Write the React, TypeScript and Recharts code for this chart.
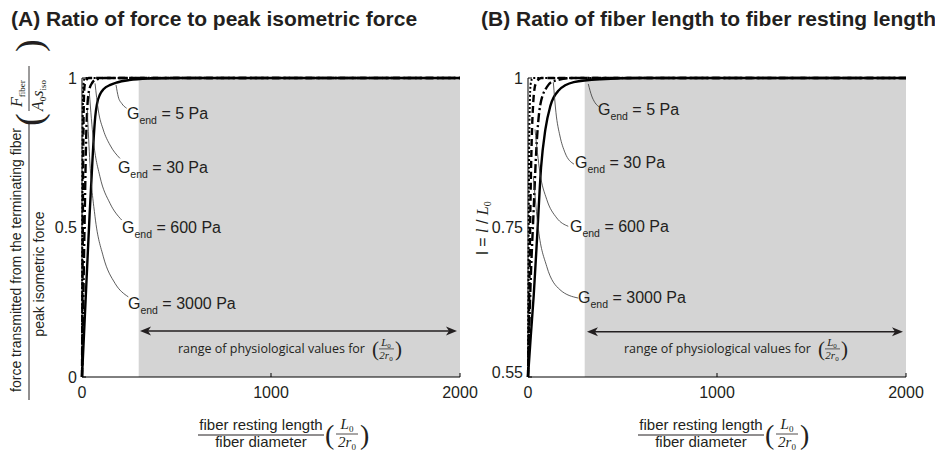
import React from 'react';
import { LineChart, Line, XAxis, YAxis, ReferenceArea, ReferenceLine, ReferenceDot } from 'recharts';

// ---------- data ----------
const xTicks = [0, 1000, 2000];
const xDomain = [0, 2000];
const physRange = [300, 2000];

const yTicksA = [0, 0.5, 1];
const yTickLabelsA = ['0', '0.5', '1'];
const yTicksB = [0.5, 0.75, 1];
const yTickLabelsB = ['0.55', '0.75', '1'];

// Panel A: force / peak isometric force
const forceG5 = [
  { x: 0, y: 0 }, { x: 20, y: 0.27 }, { x: 40, y: 0.54 }, { x: 55, y: 0.72 }, { x: 62, y: 0.8 },
  { x: 70, y: 0.87 }, { x: 80, y: 0.915 }, { x: 95, y: 0.945 }, { x: 115, y: 0.963 }, { x: 150, y: 0.977 },
  { x: 185, y: 0.985 }, { x: 250, y: 0.993 }, { x: 350, y: 0.998 }, { x: 500, y: 1 }, { x: 2000, y: 1 },
];
const forceG30 = [
  { x: 0, y: 0 }, { x: 8, y: 0.3 }, { x: 16, y: 0.6 }, { x: 22, y: 0.8 }, { x: 28, y: 0.9 },
  { x: 38, y: 0.96 }, { x: 55, y: 0.985 }, { x: 75, y: 0.995 }, { x: 120, y: 1 }, { x: 2000, y: 1 },
];
const forceG600 = [
  { x: 0, y: 0 }, { x: 3, y: 0.35 }, { x: 6, y: 0.7 }, { x: 9, y: 0.9 }, { x: 13, y: 0.97 },
  { x: 20, y: 0.99 }, { x: 35, y: 1 }, { x: 2000, y: 1 },
];
const forceG3000 = [
  { x: 0, y: 0 }, { x: 1.5, y: 0.4 }, { x: 3, y: 0.75 }, { x: 5, y: 0.93 }, { x: 8, y: 0.98 },
  { x: 15, y: 1 }, { x: 2000, y: 1 },
];

// Panel B: fiber length / resting length
const lengthG5 = [
  { x: 0, y: 0.5 }, { x: 15, y: 0.57 }, { x: 30, y: 0.635 }, { x: 51, y: 0.75 }, { x: 69, y: 0.85 },
  { x: 92, y: 0.914 }, { x: 118, y: 0.953 }, { x: 162, y: 0.979 }, { x: 242, y: 0.993 }, { x: 383, y: 0.998 },
  { x: 600, y: 1 }, { x: 2000, y: 1 },
];
const lengthG30 = [
  { x: 0, y: 0.5 }, { x: 12, y: 0.64 }, { x: 30, y: 0.78 }, { x: 44, y: 0.88 }, { x: 65, y: 0.955 },
  { x: 100, y: 0.985 }, { x: 136, y: 0.995 }, { x: 250, y: 1 }, { x: 2000, y: 1 },
];
const lengthG600 = [
  { x: 0, y: 0.5 }, { x: 5, y: 0.6 }, { x: 10, y: 0.72 }, { x: 15, y: 0.83 }, { x: 20, y: 0.9 },
  { x: 28, y: 0.96 }, { x: 40, y: 0.99 }, { x: 70, y: 1 }, { x: 2000, y: 1 },
];
const lengthG3000 = [
  { x: 0, y: 0.5 }, { x: 2, y: 0.62 }, { x: 4, y: 0.76 }, { x: 6, y: 0.88 }, { x: 9, y: 0.95 },
  { x: 14, y: 0.99 }, { x: 25, y: 1 }, { x: 2000, y: 1 },
];

// leader lines (annotation callouts)
const leaderA5 = [{ x: 180, y: 0.977 }, { x: 192, y: 0.937 }, { x: 210, y: 0.915 }, { x: 236, y: 0.899 }];
const leaderA30 = [{ x: 69, y: 0.982 }, { x: 86, y: 0.893 }, { x: 113, y: 0.826 }, { x: 148, y: 0.776 }, { x: 201, y: 0.731 }];
const leaderA600 = [{ x: 39, y: 0.949 }, { x: 60, y: 0.793 }, { x: 95, y: 0.67 }, { x: 148, y: 0.581 }, { x: 210, y: 0.525 }];
const leaderA3000 = [{ x: 28, y: 0.893 }, { x: 42, y: 0.715 }, { x: 69, y: 0.536 }, { x: 113, y: 0.402 }, { x: 175, y: 0.313 }, { x: 245, y: 0.268 }];

const leaderB5 = [{ x: 319, y: 0.99 }, { x: 337, y: 0.97 }, { x: 354, y: 0.959 }, { x: 381, y: 0.951 }];
const leaderB30 = [{ x: 134, y: 0.993 }, { x: 148, y: 0.942 }, { x: 169, y: 0.903 }, { x: 196, y: 0.875 }, { x: 243, y: 0.856 }];
const leaderB600 = [{ x: 37, y: 0.914 }, { x: 63, y: 0.842 }, { x: 99, y: 0.797 }, { x: 152, y: 0.766 }, { x: 213, y: 0.752 }];
const leaderB3000 = [{ x: 28, y: 0.836 }, { x: 55, y: 0.747 }, { x: 99, y: 0.685 }, { x: 169, y: 0.646 }, { x: 266, y: 0.632 }];

const gNames = ['5 Pa', '30 Pa', '600 Pa', '3000 Pa'];
const gLabelXA = [238, 190, 212, 243];
const gLabelYA = [0.883, 0.702, 0.502, 0.247];
const gLabelXB = [370, 249, 222, 265];
const gLabelYB = [0.948, 0.859, 0.752, 0.634];

const arrowA = [{ x: 307, y: 0.154 }, { x: 1984, y: 0.154 }];
const arrowB = [{ x: 312, y: 0.5755 }, { x: 1984, y: 0.5755 }];
const rangeTextA = { x: 508, y: 0.094 };
const rangeTextB = { x: 508, y: 0.547 };

// ---------- styles ----------
const SANS = "'Liberation Sans', Arial, Helvetica, sans-serif";
const SERIF = "'Liberation Serif', 'Times New Roman', serif";
const MYRIAD = "'Open Sans', 'Liberation Sans', sans-serif";
const INK = '#231f20';
const SHADE = '#d4d4d4';

const vbCenter = (vb: any) => {
  const x = (vb?.x ?? 0) + (vb?.width ?? 0) / 2;
  const y = (vb?.y ?? 0) + (vb?.height ?? 0) / 2;
  return { x, y };
};

const GLabel = (name: string) => (props: any) => {
  const { x, y } = vbCenter(props.viewBox);
  return (
    <text x={x} y={y + 6} fontFamily={SANS} fontSize={16} fill={INK}>
      G<tspan fontSize={10.5} dy={5}>end</tspan>
      <tspan dy={-5} fontSize={16}>{' = ' + name}</tspan>
    </text>
  );
};

const RangeLabel = (props: any) => {
  const { x, y } = vbCenter(props.viewBox);
  return (
    <g fill={INK}>
      <text x={x} y={y + 4} fontFamily={MYRIAD} fontSize={12.5}>range of physiological values for</text>
      <text x={x + 194} y={y + 7} fontFamily={SERIF} fontSize={21}>(</text>
      <text x={x + 208} y={y - 2.5} fontFamily={SERIF} fontSize={11} fontStyle="italic" textAnchor="middle">
        L<tspan fontSize={7} fontStyle="normal" dy={2}>0</tspan>
      </text>
      <line x1={x + 201} x2={x + 216} y1={y} y2={y} stroke={INK} strokeWidth={0.7} />
      <text x={x + 208} y={y + 10.5} fontFamily={SERIF} fontSize={11} fontStyle="italic" textAnchor="middle">
        2r<tspan fontSize={7} fontStyle="normal" dy={2}>0</tspan>
      </text>
      <text x={x + 217} y={y + 7} fontFamily={SERIF} fontSize={21}>)</text>
    </g>
  );
};

const ArrowShape = (props: any) => {
  const { x1, y1, x2, y2 } = props;
  const L = 11, W = 4.5;
  return (
    <g>
      <line x1={x1 + 4} y1={y1} x2={x2 - 4} y2={y2} stroke={INK} strokeWidth={1.5} />
      <polygon points={`${x1},${y1} ${x1 + L},${y1 - W} ${x1 + L - 3},${y1} ${x1 + L},${y1 + W}`} fill={INK} />
      <polygon points={`${x2},${y2} ${x2 - L},${y2 - W} ${x2 - L + 3},${y2} ${x2 - L},${y2 + W}`} fill={INK} />
    </g>
  );
};

const tickStyle = { fontSize: 16, fill: INK, fontFamily: SANS };

const YTick = (labels: string[], ticks: number[], shift: number[]) => (tp: any) => {
  const i = ticks.indexOf(tp.payload?.value);
  return (
    <text x={tp.x} y={tp.y + (shift[i] || 0)} dy={5.5} textAnchor="end" fontSize={16} fontFamily={SANS} fill={INK}>
      {labels[i]}
    </text>
  );
};

type Pt = { x: number; y: number };
const curveLine = (d: Pt[], key: string, dash?: string, w = 2.4) => (
  <Line key={key} data={d} dataKey="y" type="monotone" stroke="#000" strokeWidth={w}
    strokeDasharray={dash} dot={false} activeDot={false} isAnimationActive={false} />
);
const leaderLine = (d: Pt[], key: string) => (
  <Line key={key} data={d} dataKey="y" type="monotone" stroke="#333" strokeWidth={0.8}
    dot={false} activeDot={false} isAnimationActive={false} />
);

const Panel = (p: {
  yDomain: number[]; yTicks: number[]; yLabels: string[]; yShift: number[];
  curves: Pt[][]; leaders: Pt[][]; labelX: number[]; labelY: number[];
  arrow: Pt[]; range: Pt; marginLeft: number; width: number;
}) => (
  <LineChart width={p.width} height={454} margin={{ top: 78, right: p.width - p.marginLeft - 60 - 378, bottom: 47, left: p.marginLeft }}>
    <ReferenceArea x1={physRange[0]} x2={physRange[1]} y1={p.yDomain[0]} y2={p.yDomain[1]} fill={SHADE} fillOpacity={1} stroke="none" />
    <XAxis type="number" dataKey="x" domain={xDomain} ticks={xTicks} interval={0} height={30}
      tickSize={-4} tickMargin={14} tick={tickStyle} axisLine={{ stroke: '#000' }} tickLine={{ stroke: '#000' }} />
    <YAxis type="number" domain={p.yDomain} ticks={p.yTicks} interval={0} width={60}
      tickSize={-4} tickMargin={9} tick={YTick(p.yLabels, p.yTicks, p.yShift)} axisLine={{ stroke: '#000' }} tickLine={{ stroke: '#000' }} />
    {curveLine(p.curves[0], 'c5')}
    {curveLine(p.curves[1], 'c30', '9 3 2 3')}
    {curveLine(p.curves[2], 'c600', '7 4')}
    {curveLine(p.curves[3], 'c3000', '2 2', 2)}
    {p.leaders.map((d, i) => leaderLine(d, 'l' + i))}
    <ReferenceLine segment={[p.arrow[0], p.arrow[1]]} shape={ArrowShape} />
    <ReferenceDot x={p.range.x} y={p.range.y} r={0} fill="none" stroke="none" label={{ content: RangeLabel }} />
    {gNames.map((n, i) => (
      <ReferenceDot key={n} x={p.labelX[i]} y={p.labelY[i]} r={0} fill="none" stroke="none"
        label={{ content: GLabel(n) }} />
    ))}
  </LineChart>
);

const XTitle = ({ cx }: { cx: number }) => (
  <g fill={INK}>
    <text x={cx} y={430} fontFamily={SANS} fontSize={15} textAnchor="middle">fiber resting length</text>
    <line x1={cx - 63} x2={cx + 63} y1={435} y2={435} stroke={INK} strokeWidth={1} />
    <text x={cx} y={447} fontFamily={SANS} fontSize={15} textAnchor="middle">fiber diameter</text>
    <text x={cx + 64} y={444} fontFamily={SERIF} fontSize={28}>(</text>
    <text x={cx + 86} y={429} fontFamily={SERIF} fontSize={15} fontStyle="italic" textAnchor="middle">
      L<tspan fontSize={9} fontStyle="normal" dy={3}>0</tspan>
    </text>
    <line x1={cx + 75} x2={cx + 97} y1={434} y2={434} stroke={INK} strokeWidth={0.8} />
    <text x={cx + 86} y={447} fontFamily={SERIF} fontSize={15} fontStyle="italic" textAnchor="middle">
      2r<tspan fontSize={9} fontStyle="normal" dy={3}>0</tspan>
    </text>
    <text x={cx + 99} y={444} fontFamily={SERIF} fontSize={28}>)</text>
  </g>
);

const Overlay = () => (
  <svg width={935} height={454} style={{ position: 'absolute', left: 0, top: 0, pointerEvents: 'none' }}>
    <text x={11} y={26} fontFamily={SANS} fontSize={21} fontWeight="bold" fill={INK}>
      (A) Ratio of force to peak isometric force
    </text>
    <text x={481} y={26} fontFamily={SANS} fontSize={21} fontWeight="bold" fill={INK}>
      (B) Ratio of fiber length to fiber resting length
    </text>
    {/* y title A */}
    <g transform="translate(29,260) rotate(-90)" fill={INK}>
      <text x={0} y={-8} fontFamily={SANS} fontSize={14} textAnchor="middle">force transmitted from the terminating fiber</text>
      <line x1={-140} x2={137} y1={0} y2={0} stroke={INK} strokeWidth={1} />
      <text x={-14} y={15} fontFamily={SANS} fontSize={14} textAnchor="middle">peak isometric force</text>
      <text x={134} y={13} fontFamily={SERIF} fontSize={38}>(</text>
      <line x1={149} x2={194} y1={0} y2={0} stroke={INK} strokeWidth={0.9} />
      <text x={153} y={-7} fontFamily={SERIF} fontSize={16} fontStyle="italic">
        F<tspan fontSize={9} fontStyle="normal" dy={3}>fiber</tspan>
      </text>
      <text x={149} y={14} fontFamily={SERIF} fontSize={16} fontStyle="italic">
        A<tspan fontSize={9} fontStyle="normal" dy={3}>0</tspan><tspan dy={-3} fontSize={16}>s</tspan>
        <tspan fontSize={9} fontStyle="normal" dy={3}>iso</tspan>
      </text>
      <text x={208} y={13} fontFamily={SERIF} fontSize={38}>)</text>
    </g>
    {/* y title B */}
    <g transform="translate(488,228) rotate(-90)" fill={INK}>
      <text x={0} y={0} fontFamily={SANS} fontSize={16} textAnchor="middle">
        l = <tspan fontFamily={SERIF} fontStyle="italic">l</tspan> / <tspan fontFamily={SERIF} fontStyle="italic">L</tspan>
        <tspan fontFamily={SERIF} fontSize={10} dy={3}>0</tspan>
      </text>
    </g>
    <XTitle cx={261} />
    <XTitle cx={701} />
  </svg>
);

export default function App() {
  return (
    <div style={{ position: 'absolute', left: 0, top: 0, width: 935, height: 454, background: '#fff', overflow: 'hidden' }}>
      <div style={{ position: 'absolute', left: 0, top: 0 }}>
        <Panel yDomain={[0, 1]} yTicks={yTicksA} yLabels={yTickLabelsA} yShift={[0, 0, 0]}
          curves={[forceG5, forceG30, forceG600, forceG3000]}
          leaders={[leaderA5, leaderA30, leaderA600, leaderA3000]}
          labelX={gLabelXA} labelY={gLabelYA} arrow={arrowA} range={rangeTextA}
          marginLeft={22} width={490} />
      </div>
      <div style={{ position: 'absolute', left: 470, top: 0 }}>
        <Panel yDomain={[0.5, 1]} yTicks={yTicksB} yLabels={yTickLabelsB} yShift={[-5, 0, 0]}
          curves={[lengthG5, lengthG30, lengthG600, lengthG3000]}
          leaders={[leaderB5, leaderB30, leaderB600, leaderB3000]}
          labelX={gLabelXB} labelY={gLabelYB} arrow={arrowB} range={rangeTextB}
          marginLeft={-2} width={465} />
      </div>
      <Overlay />
    </div>
  );
}
